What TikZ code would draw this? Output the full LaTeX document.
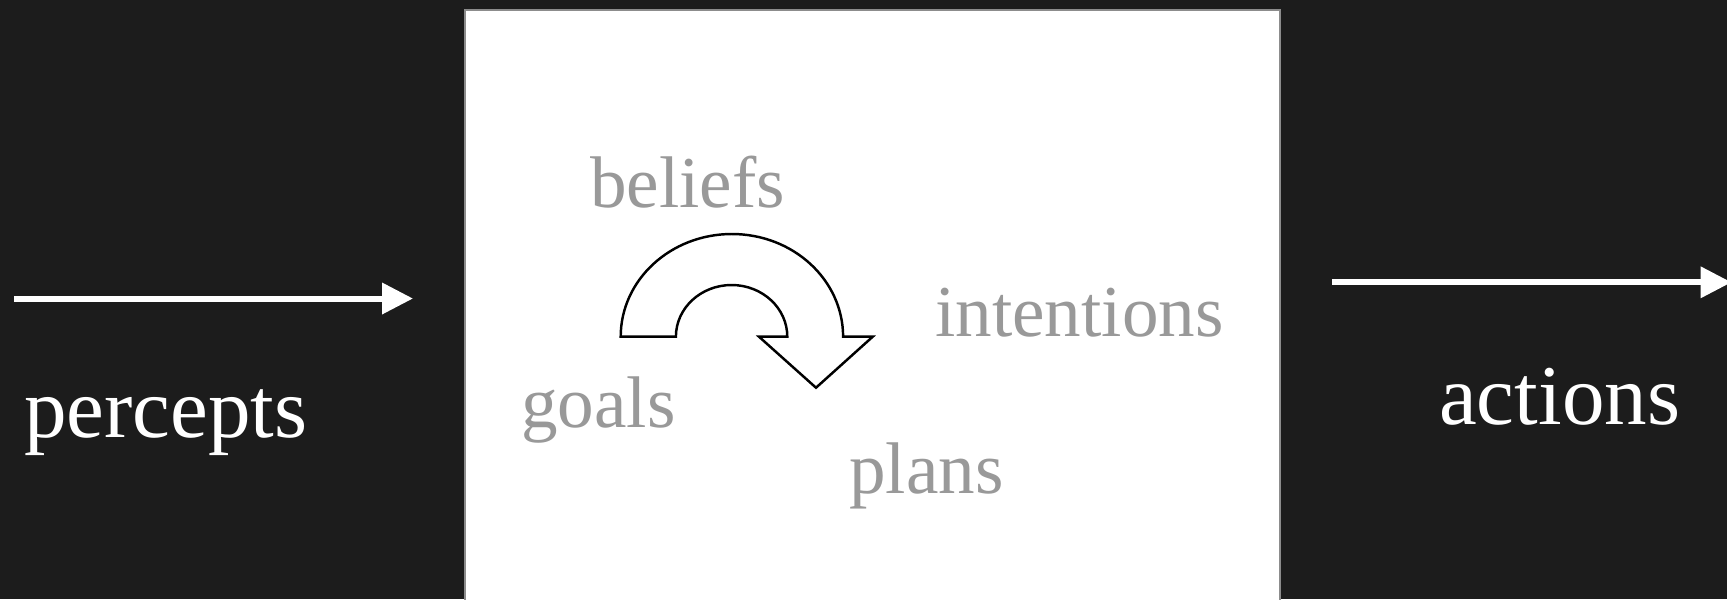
\documentclass[tikz,border=0pt]{standalone}
\usepackage{fontspec}
\setmainfont{Liberation Serif}
\usetikzlibrary{arrows.meta}
\definecolor{bgdark}{HTML}{1C1C1C}
\definecolor{lblgray}{HTML}{999999}
\definecolor{boxgray}{HTML}{8C8C8C}

\begin{document}
\begin{tikzpicture}[x=0.1mm,y=-0.1mm,
	outer/.style={text=white,font=\fontsize{24.2}{29}\selectfont,anchor=base west,inner sep=0},
	inner/.style={text=lblgray,font=\fontsize{20.8}{25}\selectfont,anchor=base west,inner sep=0},
	flow/.style={white,line width=1.7pt,-{Triangle[length=8.8pt,width=8.6pt]}}]
	\useasboundingbox (0,0) rectangle (1727,599);
	\clip (0,0) rectangle (1727,599);
	\fill [bgdark] (0,0) rectangle (1727,599);
	% agent box
	\draw [boxgray,line width=0.8pt,fill=white] (465,10) rectangle (1280,620);
	% in and out
	\coordinate (in1) at (14,298.5);
	\coordinate (in2) at (413,298.5);
	\coordinate (out1) at (1332,282.3);
	\coordinate (out2) at (1731.5,282.3);
	\draw [flow] (in1) -- (in2);
	\draw [flow] (out1) -- (out2);
	\node [outer] (percepts) at (23.5,437) {percepts};
	\node [outer] (actions) at (1438.5,424) {actions};
	% mental state
	\node [inner] (beliefs) at (589.5,207) {beliefs};
	\node [inner] (intentions) at (934.5,336.7) {intentions};
	\node [inner] (goals) at (520.5,427) {goals};
	\node [inner] (plans) at (848.5,493) {plans};
	% reasoning cycle (y runs down, so the arcs go through 270)
	\draw [black,line width=0.7pt,fill=white,line join=miter]
		(620.7,336.7) arc [start angle=180,end angle=360,x radius=111.2,y radius=102.7]
		-- (872.7,336.7) -- (816,387.7) -- (759,336.7) -- (787.3,336.7)
		arc [start angle=360,end angle=180,x radius=55.7,y radius=51.7] -- cycle;
\end{tikzpicture}
\end{document}
